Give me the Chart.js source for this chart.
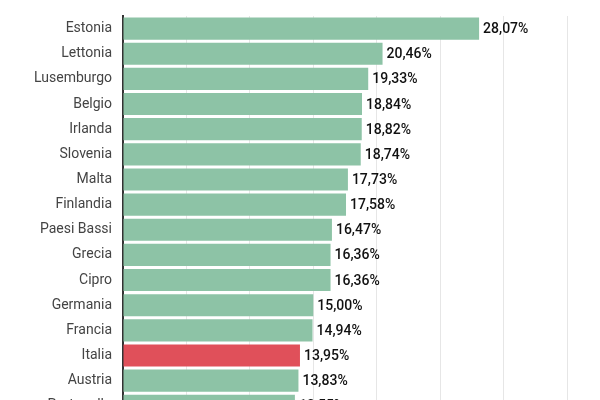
<!DOCTYPE html>
<html>
<head>
<meta charset="utf-8">
<script src="https://cdn.jsdelivr.net/npm/chart.js@4"></script>
<style>
  html, body { margin: 0; padding: 0; background: #fff; overflow: hidden; }
  #chart { display: block; width: 600px; height: 400px; }
</style>
</head>
<body>
<canvas id="chart" width="600" height="400"></canvas>
<script>
const countries = [
  "Estonia", "Lettonia", "Lusemburgo", "Belgio", "Irlanda", "Slovenia",
  "Malta", "Finlandia", "Paesi Bassi", "Grecia", "Cipro", "Germania",
  "Francia", "Italia", "Austria", "Portogallo"
];
const values = [
  28.07, 20.46, 19.33, 18.84, 18.82, 18.74,
  17.73, 17.58, 16.47, 16.36, 16.36, 15.00,
  14.94, 13.95, 13.83, 13.55
];
const highlight = "Italia";

const green = "#8dc3a6";
const red = "#e0505a";

// etichette valore a destra delle barre
const valueLabels = {
  id: "valueLabels",
  afterDatasetsDraw(chart) {
    const ctx = chart.ctx;
    const meta = chart.getDatasetMeta(0);
    ctx.save();
    ctx.font = "500 14px Roboto";
    ctx.fillStyle = "#111111";
    ctx.textAlign = "left";
    ctx.textBaseline = "middle";
    meta.data.forEach((bar, i) => {
      const txt = values[i].toFixed(2).replace(".", ",") + "%";
      ctx.fillText(txt, bar.x + 4, bar.y + 1);
    });
    ctx.restore();
  }
};

const ctx = document.getElementById("chart");
new Chart(ctx, {
  type: "bar",
  data: {
    labels: countries,
    datasets: [
      {
        data: values,
        backgroundColor: countries.map((c) => (c === highlight ? red : green)),
        borderWidth: 0,
        barPercentage: 0.88,
        categoryPercentage: 1,
      },
    ],
  },
  options: {
    indexAxis: "y",
    responsive: false,
    animation: false,
    devicePixelRatio: 1,
    layout: {
      padding: { top: 16, bottom: 0, right: 33, left: 0 },
    },
    plugins: {
      legend: { display: false },
      tooltip: { enabled: false },
    },
    scales: {
      x: {
        min: 0,
        max: 35,
        ticks: { display: false, stepSize: 5 },
        grid: { color: "#e6e6e6", lineWidth: 1, drawTicks: false },
        border: { display: false },
      },
      y: {
        ticks: {
          color: "#444444",
          font: { family: "Roboto", size: 14 },
          padding: 11,
        },
        grid: { display: false, drawTicks: false },
        border: { display: true, color: "#333333", width: 2 },
        // la lista continua oltre il bordo inferiore: l'ultima barra è tagliata
        afterBuildTicks(scale) {
          scale._valueRange = 15.27;
        },
        afterFit(scale) {
          scale.width = 123;
          scale.paddingTop = 0;
          scale.paddingBottom = 0;
        },
      },
    },
  },
  plugins: [valueLabels],
});
</script>
</body>
</html>
